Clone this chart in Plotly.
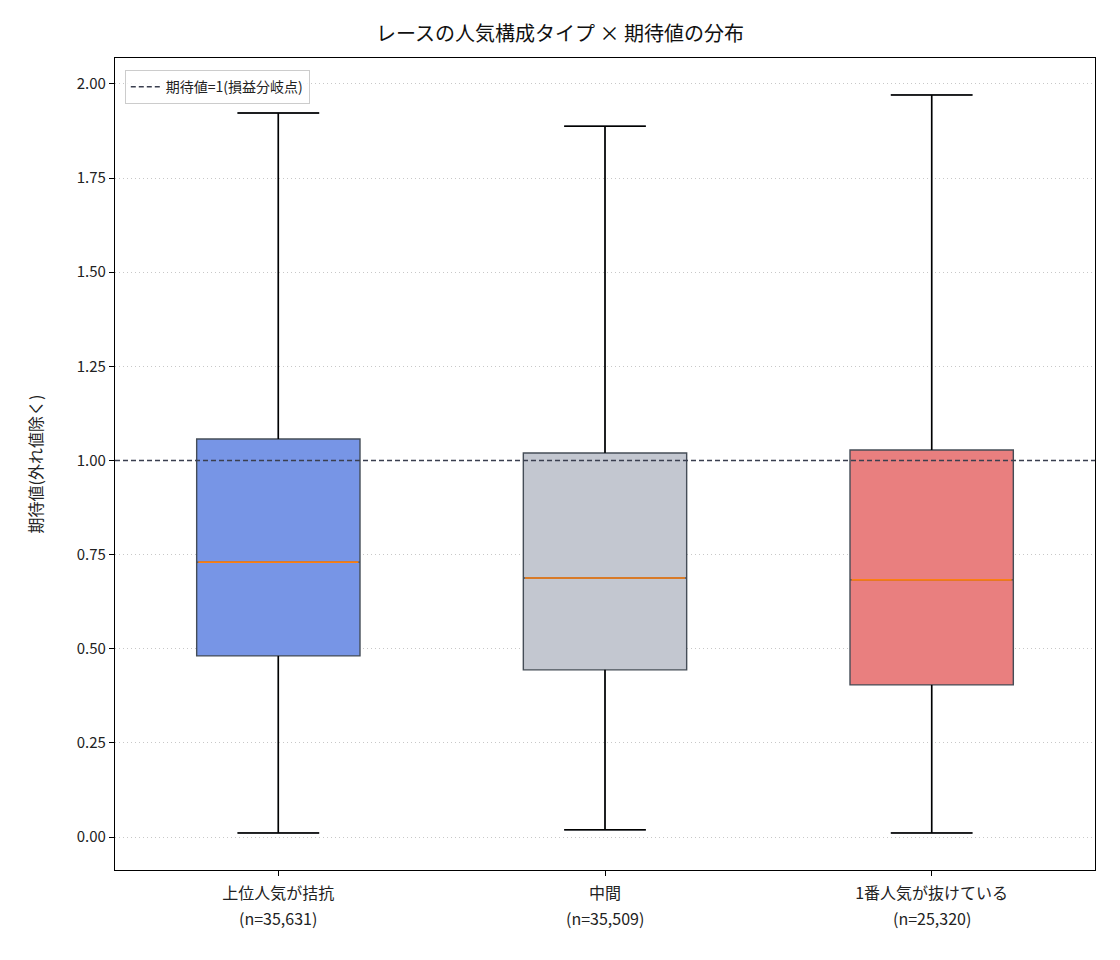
import plotly.graph_objects as go

categories = ["上位人気が拮抗", "中間", "1番人気が抜けている"]
counts = ["35,631", "35,509", "25,320"]
q1 = [0.481, 0.444, 0.404]
median = [0.730, 0.688, 0.683]
q3 = [1.057, 1.020, 1.028]
lower = [0.011, 0.019, 0.011]
upper = [1.923, 1.888, 1.971]
fills = ["#7795e6", "#c3c7d0", "#e97f7f"]
breakeven = 1.0

FONT = "Noto Sans CJK JP"
BOXW = 0.5
CAPW = 0.25

fig = go.Figure()
pos = list(range(len(categories)))
for i in pos:
    fig.add_trace(go.Box(
        x=[i], q1=[q1[i]], median=[median[i]], q3=[q3[i]],
        lowerfence=[lower[i]], upperfence=[upper[i]],
        width=BOXW, whiskerwidth=0.5, fillcolor=fills[i],
        line=dict(color="#454d57", width=1.4), showlegend=False,
        hoverinfo="skip",
    ))

# whiskers (black)
wx, wy = [], []
for i in pos:
    wx += [i, i, None, i, i, None, i - CAPW / 2, i + CAPW / 2, None, i - CAPW / 2, i + CAPW / 2, None]
    wy += [q3[i], upper[i], None, q1[i], lower[i], None, upper[i], upper[i], None, lower[i], lower[i], None]
fig.add_trace(go.Scatter(x=wx, y=wy, mode="lines", line=dict(color="black", width=1.5),
                         showlegend=False, hoverinfo="skip"))
# medians (orange)
mx, my = [], []
for i in pos:
    mx += [i - BOXW / 2 + 0.005, i + BOXW / 2 - 0.005, None]
    my += [median[i], median[i], None]
fig.add_trace(go.Scatter(x=mx, y=my, mode="lines", line=dict(color="#ff7f0e", width=1.6),
                         showlegend=False, hoverinfo="skip"))
# breakeven line
fig.add_trace(go.Scatter(x=[-0.5, 2.5], y=[breakeven, breakeven], mode="lines",
                         line=dict(color="#3a3f4f", width=1.4, dash="5px,3px"),
                         name="期待値=1(損益分岐点)", hoverinfo="skip"))

# second line of each x label: sample size
for i in pos:
    fig.add_annotation(x=i, xref="x", y=0, yref="paper", yanchor="middle", yshift=-48,
                       text=f"(n={counts[i]})", showarrow=False,
                       font=dict(size=16, color="#222"))

fig.update_layout(
    width=1120, height=960,
    margin=dict(l=115, r=25, t=58, b=90),
    plot_bgcolor="white", paper_bgcolor="white",
    font=dict(family=FONT, size=14, color="#222"),
    title=dict(text="レースの人気構成タイプ × 期待値の分布", x=0.5, xanchor="center",
               y=1 - 34 / 960, yanchor="middle", font=dict(size=20, color="#111")),
    showlegend=True,
    legend=dict(x=0.01, y=0.985, xanchor="left", yanchor="top",
                bordercolor="#cccccc", borderwidth=1, bgcolor="rgba(255,255,255,0.8)",
                font=dict(size=14)),
    xaxis=dict(range=[-0.5, 2.5], tickvals=pos, ticktext=categories,
               showgrid=False, zeroline=False, showline=True, mirror=True,
               linecolor="black", linewidth=1.2, ticks="outside", ticklen=5,
               tickcolor="black", tickfont=dict(size=16), ticklabelstandoff=4),
    yaxis=dict(range=[-0.0876, 2.069], tickvals=[0, 0.25, 0.5, 0.75, 1.0, 1.25, 1.5, 1.75, 2.0],
               tickformat=".2f", showgrid=True, gridcolor="#c8c8c8", griddash="1px,3px",
               gridwidth=1, zeroline=False, showline=True, mirror=True,
               linecolor="black", linewidth=1.2, ticks="outside", ticklen=5,
               tickcolor="black", tickfont=dict(size=15),
               title=dict(text="期待値(外れ値除く)", font=dict(size=16), standoff=30)),
)

fig.write_html("out.html")
